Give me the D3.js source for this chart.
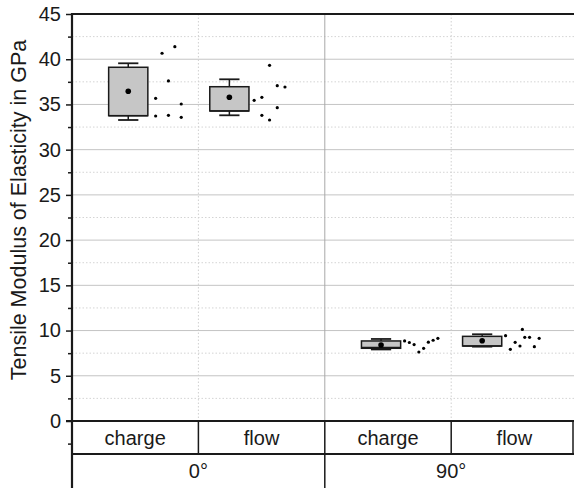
<!DOCTYPE html>
<html>
<head>
<meta charset="utf-8">
<script src="https://cdn.jsdelivr.net/npm/d3@7"></script>
<style>
  body { margin: 0; background: #fff; }
  svg { display: block; font-family: "Liberation Sans", Arial, sans-serif; }
</style>
</head>
<body>
<svg id="chart" width="574" height="488"></svg>
<script>
// Fibre orientation groups and moulding methods
const groups = ["0°", "90°"];
const methods = ["charge", "flow"];

// Box statistics, order: 0° charge, 0° flow, 90° charge, 90° flow (GPa)
const whiskerLow  = [33.28, 33.80, 7.91, 8.22];
const quartile1   = [33.76, 34.28, 8.04, 8.29];
const median      = [33.76, 34.28, 8.12, 8.29];
const quartile3   = [39.11, 36.96, 8.85, 9.36];
const whiskerHigh = [39.55, 37.78, 9.07, 9.59];
const mean        = [36.46, 35.79, 8.40, 8.88];

// Individual specimen results (GPa)
const charge0  = [40.66, 41.39, 37.60, 35.68, 35.05, 33.72, 33.80, 33.58];
const flow0    = [39.33, 35.46, 35.79, 37.08, 36.93, 34.64, 33.80, 33.28];
const charge90 = [8.85, 8.68, 8.45, 7.63, 8.04, 8.71, 8.93, 9.14];
const flow90   = [9.43, 7.93, 8.70, 8.29, 10.12, 9.25, 9.25, 8.22, 9.14];

// Swarm column of each specimen next to its box
const charge0Col  = [-1, 1, 0, -2, 2, -2, 0, 2];
const flow0Col    = [0, -2, -1, 1, 2, 1, -1, 0];
const charge90Col = [-3.5, -2.5, -1.5, -0.5, 0.5, 1.5, 2.5, 3.5];
const flow90Col   = [-3.5, -2.5, -1.5, -0.5, 0, 0.5, 1.5, 2.5, 3.5];

const yMajor = [0, 5, 10, 15, 20, 25, 30, 35, 40, 45];
const yMinor = [-2.5, 2.5, 7.5, 12.5, 17.5, 22.5, 27.5, 32.5, 37.5, 42.5];
const yTitle = "Tensile Modulus of Elasticity in GPa";

// ---- layout ----
const plotLeft = 72, plotRight = 577.6, plotTop = 14, zeroY = 421;
const rowSplit = 454, tableBottom = 488;
const boxOffset = [0.445, 0.245];   // box centre inside its column (column units)
const boxWidth = 0.31;              // column units
const capWidth = 0.16;
const swarmShift = 0.318;           // swarm centre to the right of the box
const swarmStep = [6.4, 7.7, 4.75, 4.8]; // px between swarm columns
const ink = "#1a1a1a";

const svg = d3.select("#chart");
const x = d3.scaleLinear().domain([0, 4]).range([plotLeft, plotRight]);
const y = d3.scaleLinear().domain([0, 45]).range([zeroY, plotTop]);
const colW = x(1) - x(0);

// grid
const grid = svg.append("g");
grid.selectAll(".minor").data(yMinor.filter(v => v > 0)).join("line")
  .attr("x1", plotLeft).attr("x2", 574)
  .attr("y1", d => y(d)).attr("y2", d => y(d))
  .attr("stroke", "#d4d4d4").attr("stroke-width", 1).attr("stroke-dasharray", "1.5,2");
grid.selectAll(".major").data(yMajor.filter(v => v > 0 && v < 45)).join("line")
  .attr("x1", plotLeft).attr("x2", 574)
  .attr("y1", d => y(d)).attr("y2", d => y(d))
  .attr("stroke", "#c4c4c4").attr("stroke-width", 1);
grid.selectAll(".vdot").data([1, 3]).join("line")
  .attr("x1", d => x(d)).attr("x2", d => x(d))
  .attr("y1", plotTop).attr("y2", zeroY)
  .attr("stroke", "#d0d0d0").attr("stroke-width", 1).attr("stroke-dasharray", "1.5,2");
grid.append("line")
  .attr("x1", x(2)).attr("x2", x(2)).attr("y1", plotTop).attr("y2", zeroY)
  .attr("stroke", "#a8a8a8").attr("stroke-width", 1);

// boxes
const samples = [charge0, flow0, charge90, flow90];
const cols = [charge0Col, flow0Col, charge90Col, flow90Col];
const boxes = svg.append("g");
samples.forEach((vals, i) => {
  const g = Math.floor(i / 2), s = i % 2;
  const cx = x(g * 2 + s + boxOffset[s]);
  const bw = boxWidth * colW, cw = capWidth * colW;
  const b = boxes.append("g");
  // whiskers
  b.append("line").attr("x1", cx).attr("x2", cx)
    .attr("y1", y(whiskerHigh[i])).attr("y2", y(quartile3[i]))
    .attr("stroke", ink).attr("stroke-width", 1.5);
  b.append("line").attr("x1", cx).attr("x2", cx)
    .attr("y1", y(quartile1[i])).attr("y2", y(whiskerLow[i]))
    .attr("stroke", ink).attr("stroke-width", 1.5);
  [whiskerHigh[i], whiskerLow[i]].forEach(v => {
    b.append("line").attr("x1", cx - cw / 2).attr("x2", cx + cw / 2)
      .attr("y1", y(v)).attr("y2", y(v))
      .attr("stroke", ink).attr("stroke-width", 1.8);
  });
  b.append("rect")
    .attr("x", cx - bw / 2).attr("width", bw)
    .attr("y", y(quartile3[i])).attr("height", y(quartile1[i]) - y(quartile3[i]))
    .attr("fill", "#c6c6c6").attr("stroke", ink).attr("stroke-width", 1.5);
  b.append("line").attr("x1", cx - bw / 2).attr("x2", cx + bw / 2)
    .attr("y1", y(median[i])).attr("y2", y(median[i]))
    .attr("stroke", ink).attr("stroke-width", 1.5);
  b.append("circle").attr("cx", cx).attr("cy", y(mean[i])).attr("r", 2.8).attr("fill", "#000");
  // specimens
  const sx = cx + swarmShift * colW;
  b.selectAll(".pt").data(vals).join("circle")
    .attr("cx", (d, k) => sx + cols[i][k] * swarmStep[i])
    .attr("cy", d => y(d))
    .attr("r", 1.6).attr("fill", "#000");
});

// top frame
svg.append("line").attr("x1", plotLeft).attr("x2", 574)
  .attr("y1", plotTop).attr("y2", plotTop)
  .attr("stroke", ink).attr("stroke-width", 2.2);

// y axis
const yAxis = svg.append("g").attr("transform", `translate(${plotLeft},0)`)
  .call(d3.axisLeft(y).tickValues(yMajor).tickSize(6).tickPadding(5).tickFormat(d3.format("d")));
yAxis.select(".domain").remove();
yAxis.selectAll(".tick line").attr("stroke", ink).attr("stroke-width", 1.5);
yAxis.selectAll(".tick text").attr("fill", ink).style("font-size", "20px")
  .style("font-family", "'Liberation Sans', Arial, sans-serif");
const yMinorAxis = svg.append("g").attr("transform", `translate(${plotLeft},0)`)
  .call(d3.axisLeft(y).tickValues(yMinor).tickSize(4).tickFormat(""));
yMinorAxis.select(".domain").remove();
yMinorAxis.selectAll(".tick line").attr("stroke", ink).attr("stroke-width", 1.5);

svg.append("line").attr("x1", plotLeft).attr("x2", plotLeft)
  .attr("y1", plotTop - 1).attr("y2", tableBottom)
  .attr("stroke", ink).attr("stroke-width", 2.2);

svg.append("text")
  .attr("transform", `translate(26,210) rotate(-90)`)
  .attr("text-anchor", "middle")
  .attr("fill", ink).style("font-size", "21.5px")
  .text(yTitle);

// category table
const table = svg.append("g");
table.append("line").attr("x1", plotLeft - 6).attr("x2", 574)
  .attr("y1", zeroY).attr("y2", zeroY).attr("stroke", ink).attr("stroke-width", 2.2);
table.append("line").attr("x1", plotLeft).attr("x2", 574)
  .attr("y1", rowSplit).attr("y2", rowSplit).attr("stroke", ink).attr("stroke-width", 2.2);
table.selectAll(".sep").data([1, 3]).join("line")
  .attr("x1", d => x(d)).attr("x2", d => x(d))
  .attr("y1", zeroY).attr("y2", rowSplit)
  .attr("stroke", ink).attr("stroke-width", 1.5);
table.append("line").attr("x1", x(2)).attr("x2", x(2))
  .attr("y1", zeroY).attr("y2", tableBottom)
  .attr("stroke", ink).attr("stroke-width", 1.5);
table.append("line").attr("x1", 573).attr("x2", 573)
  .attr("y1", zeroY).attr("y2", rowSplit)
  .attr("stroke", ink).attr("stroke-width", 1.5);

const cells = d3.range(4).map(i => ({ label: methods[i % 2], pos: i + 0.5 }));
table.selectAll(".m").data(cells).join("text")
  .attr("x", d => x(d.pos)).attr("y", (zeroY + rowSplit) / 2)
  .attr("dy", "0.36em").attr("text-anchor", "middle")
  .attr("fill", ink).style("font-size", "20px")
  .text(d => d.label);
table.selectAll(".g").data(groups).join("text")
  .attr("x", (d, i) => x(i * 2 + 1)).attr("y", (rowSplit + tableBottom) / 2)
  .attr("dy", "0.36em").attr("text-anchor", "middle")
  .attr("fill", ink).style("font-size", "20px")
  .text(d => d);
</script>
</body>
</html>
